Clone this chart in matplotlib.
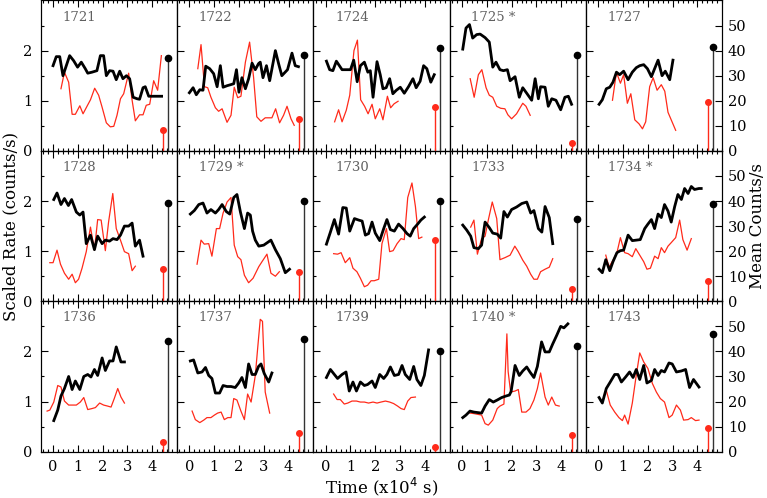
import matplotlib.pyplot as plt
from matplotlib.ticker import FixedLocator, MultipleLocator

# panel names (obs id), * = flagged
names = ["1721", "1722", "1724", "1725 *", "1727",
         "1728", "1729 *", "1730", "1733", "1734 *",
         "1736", "1737", "1739", "1740 *", "1743"]

# mean counts/s (right axis) shown as stems at the end of each panel
mean_black = [37.0, 38.3, 40.9, 38.4, 41.3,
              39.3, 39.9, 39.9, 33.0, 39.0,
              44.1, 45.0, 40.0, 42.0, 47.0]
mean_red = [8.2, 12.8, 17.5, 3.2, 19.5,
            12.7, 11.5, 24.6, 4.8, 8.2,
            4.0, 7.5, 2.0, 6.6, 9.3]

# scaled rate curves: (time x1e4 s, counts/s)
black_1721 = [(0.00,1.70),(0.13,1.88),(0.27,1.88),(0.40,1.50),(0.67,1.90),(0.83,1.80),(0.99,1.67),(1.14,1.77),(1.30,1.64),(1.40,1.55),(1.57,1.57),(1.77,1.60),(1.91,1.90),(2.04,1.90),(2.15,1.50),(2.28,1.60),(2.42,1.59),(2.55,1.42),(2.69,1.59),(2.82,1.44),(2.96,1.50),(3.09,1.44),(3.23,1.07),(3.39,1.04),(3.49,1.03),(3.63,1.26),(3.72,1.28),(3.86,1.09),(4.06,1.09),(4.38,1.09)]
red_1721 = [(0.32,1.24),(0.46,1.57),(0.63,1.37),(0.77,0.73),(0.90,0.73),(1.08,0.90),(1.21,0.74),(1.37,0.89),(1.51,1.02),(1.68,1.25),(1.84,1.11),(1.98,0.87),(2.15,0.56),(2.31,0.48),(2.45,0.49),(2.58,0.71),(2.72,1.04),(2.85,1.14),(3.05,1.55),(3.19,1.01),(3.32,0.60),(3.49,0.72),(3.63,0.72),(3.76,0.91),(3.90,0.93),(4.06,1.40),(4.22,1.21),(4.37,1.90)]

black_1722 = [(0.00,1.16),(0.15,1.26),(0.28,1.12),(0.42,1.22),(0.55,1.21),(0.66,1.69),(0.82,1.64),(0.98,1.54),(1.12,1.28),(1.25,1.70),(1.36,1.27),(1.52,1.30),(1.66,1.32),(1.79,1.34),(1.90,1.62),(2.00,1.17),(2.12,1.46),(2.26,1.24),(2.39,1.44),(2.53,1.75),(2.66,1.62),(2.79,1.74),(2.86,1.77),(2.97,1.46),(3.11,1.70),(3.24,1.40),(3.47,2.00),(3.60,1.74),(3.73,1.50),(3.96,1.62),(4.14,1.95),(4.27,1.70),(4.40,1.68)]
red_1722 = [(0.34,1.64),(0.47,2.12),(0.61,1.28),(0.74,1.26),(0.87,1.07),(1.05,0.86),(1.18,0.79),(1.32,0.84),(1.52,0.57),(1.68,0.71),(1.81,1.27),(1.95,1.06),(2.08,1.09),(2.26,1.77),(2.43,2.17),(2.59,1.47),(2.72,0.68),(2.89,0.59),(3.06,0.66),(3.20,0.66),(3.33,0.66),(3.48,0.84),(3.64,0.56),(3.80,0.71),(3.94,0.89),(4.10,0.64),(4.23,0.51)]

black_1724 = [(0.03,1.79),(0.16,1.62),(0.29,1.60),(0.43,1.79),(0.66,1.62),(1.00,1.62),(1.13,1.81),(1.27,1.38),(1.40,1.70),(1.56,1.77),(1.70,1.57),(1.80,1.60),(1.91,1.07),(2.07,1.78),(2.20,1.52),(2.31,1.24),(2.44,1.26),(2.58,1.44),(2.71,1.14),(2.85,1.21),(3.01,1.27),(3.17,1.15),(3.34,1.28),(3.52,1.44),(3.65,1.26),(3.81,1.39),(3.95,1.70),(4.08,1.64),(4.24,1.37),(4.38,1.52)]
red_1724 = [(0.36,0.58),(0.52,0.82),(0.66,0.58),(0.83,0.81),(0.97,1.11),(1.14,2.00),(1.28,2.21),(1.41,1.02),(1.57,0.89),(1.71,0.74),(1.87,0.93),(2.00,0.64),(2.18,0.84),(2.31,0.62),(2.49,1.09),(2.62,0.86),(2.76,0.94),(2.92,0.99)]

black_1725 = [(0.03,2.03),(0.16,2.45),(0.30,2.52),(0.43,2.25),(0.59,2.32),(0.73,2.33),(0.93,2.26),(1.10,2.17),(1.24,1.67),(1.37,1.77),(1.53,1.62),(1.67,1.60),(1.83,1.62),(1.94,1.40),(2.14,1.48),(2.31,1.07),(2.45,1.26),(2.61,1.15),(2.81,1.01),(2.95,1.44),(3.08,1.04),(3.17,1.28),(3.35,1.27),(3.48,0.89),(3.62,1.04),(3.79,1.01),(3.98,0.82),(4.15,1.07),(4.29,1.09),(4.42,0.93)]
red_1725 = [(0.33,1.44),(0.49,1.07),(0.66,1.52),(0.80,1.62),(0.97,1.26),(1.10,1.11),(1.24,1.07),(1.40,0.89),(1.56,0.85),(1.73,0.84),(1.85,0.72),(2.00,0.64),(2.20,0.74),(2.45,0.95),(2.58,0.89),(2.75,0.71)]

black_1727 = [(0.03,0.93),(0.16,1.02),(0.32,1.24),(0.46,1.27),(0.59,1.37),(0.73,1.57),(0.86,1.52),(1.02,1.59),(1.20,1.42),(1.37,1.57),(1.53,1.66),(1.67,1.70),(1.83,1.72),(1.98,1.64),(2.14,1.48),(2.27,1.64),(2.41,1.81),(2.57,1.50),(2.70,1.59),(2.88,1.42),(3.01,1.81)]
red_1727 = [(0.57,1.01),(0.73,1.57),(0.89,1.35),(1.02,1.52),(1.17,0.95),(1.31,1.14),(1.47,0.62),(1.64,0.54),(1.78,0.44),(1.91,0.58),(2.07,1.28),(2.21,1.46),(2.37,1.21),(2.54,1.32),(2.68,1.19),(2.81,0.77),(3.12,0.41)]

black_1728 = [(0.03,2.03),(0.16,2.16),(0.32,1.93),(0.46,2.05),(0.62,1.91),(0.75,2.03),(0.94,1.78),(1.08,1.72),(1.21,1.78),(1.34,1.15),(1.51,1.32),(1.67,1.03),(1.80,1.30),(1.98,1.15),(2.11,1.22),(2.28,1.20),(2.42,1.25),(2.58,1.23),(2.72,1.32),(2.88,1.50),(3.05,1.50),(3.19,1.56),(3.32,1.10),(3.49,1.22),(3.63,0.90)]
red_1728 = [(-0.13,0.77),(0.00,0.77),(0.16,1.02),(0.30,0.74),(0.46,0.56),(0.63,0.44),(0.77,0.54),(0.90,0.37),(1.03,0.44),(1.17,0.66),(1.34,0.99),(1.51,1.48),(1.67,1.02),(1.80,1.63),(1.94,1.62),(2.11,1.01),(2.24,1.58),(2.41,2.15),(2.55,1.45),(2.72,1.22),(2.88,0.99),(3.05,0.95),(3.19,0.61),(3.32,0.70)]

black_1729 = [(0.04,1.74),(0.20,1.81),(0.38,1.93),(0.55,1.96),(0.71,1.76),(0.87,1.83),(1.05,1.76),(1.18,1.83),(1.32,1.93),(1.49,1.79),(1.63,1.74),(1.79,2.07),(1.92,2.13),(2.06,1.78),(2.22,1.45),(2.35,1.76),(2.46,1.72),(2.55,1.40),(2.66,1.22),(2.80,1.10),(3.00,1.12),(3.29,1.22),(3.47,1.03),(3.67,0.85),(3.87,0.57),(4.04,0.64)]
red_1729 = [(0.31,0.74),(0.47,1.22),(0.60,1.14),(0.78,1.15),(0.91,0.90),(1.09,1.45),(1.22,1.45),(1.36,1.76),(1.52,1.98),(1.68,2.07),(1.81,1.12),(1.95,0.89),(2.08,0.83),(2.22,0.52),(2.39,0.37),(2.57,0.46),(2.80,0.69),(2.93,0.79),(3.13,0.94),(3.29,0.56),(3.47,0.50),(3.63,0.59)]

black_1730 = [(0.03,1.14),(0.19,1.38),(0.35,1.63),(0.52,1.34),(0.69,1.87),(0.83,1.86),(0.97,1.40),(1.16,1.65),(1.33,1.62),(1.47,1.60),(1.60,1.32),(1.73,1.35),(1.87,1.58),(2.00,1.36),(2.18,1.21),(2.34,1.45),(2.47,1.63),(2.61,1.43),(2.77,1.40),(2.94,1.54),(3.12,1.45),(3.28,1.35),(3.41,1.30),(3.55,1.45),(3.71,1.54),(3.84,1.62),(3.98,1.68)]
red_1730 = [(0.32,0.95),(0.48,0.94),(0.62,0.97),(0.79,0.77),(0.97,0.87),(1.10,0.66),(1.26,0.59),(1.40,0.46),(1.56,0.29),(1.69,0.32),(1.83,0.41),(1.96,0.41),(2.14,0.44),(2.27,1.15),(2.45,1.45),(2.58,0.99),(2.72,1.01),(2.88,1.15),(3.04,1.25),(3.17,1.23),(3.31,2.07),(3.48,2.36),(3.62,1.89),(3.75,1.25),(3.88,1.28)]

black_1733 = [(0.03,1.52),(0.19,1.42),(0.35,1.30),(0.48,1.07),(0.66,1.05),(0.79,1.12),(0.93,1.58),(1.10,1.47),(1.24,1.36),(1.42,1.34),(1.56,1.26),(1.69,1.79),(1.83,1.68),(2.00,1.83),(2.20,1.88),(2.41,1.95),(2.61,1.98),(2.77,1.76),(2.90,1.81),(3.08,1.45),(3.22,1.38),(3.35,1.89),(3.52,1.67),(3.66,1.15)]
red_1733 = [(0.35,1.48),(0.48,1.62),(0.62,0.94),(0.79,1.25),(0.93,1.30),(1.06,1.62),(1.22,1.98),(1.40,1.65),(1.53,0.83),(1.73,0.87),(1.94,0.92),(2.13,1.10),(2.27,0.99),(2.45,0.82),(2.61,0.70),(2.77,0.54),(2.90,0.44),(3.04,0.44),(3.17,0.59),(3.35,0.64),(3.52,0.68),(3.66,0.85)]

black_1734 = [(0.03,0.64),(0.16,0.57),(0.30,0.83),(0.46,0.61),(0.59,0.79),(0.75,0.97),(0.89,1.01),(1.02,1.02),(1.20,1.32),(1.37,1.21),(1.53,1.22),(1.69,1.23),(1.87,1.45),(2.00,1.54),(2.14,1.63),(2.27,1.45),(2.41,1.74),(2.54,1.67),(2.67,1.93),(2.81,1.80),(2.94,1.58),(3.08,1.89),(3.21,2.13),(3.35,2.03),(3.48,2.25),(3.62,2.15),(3.75,2.29),(3.88,2.23),(4.06,2.25),(4.15,2.25)]
red_1734 = [(0.30,0.92),(0.43,0.68),(0.59,0.82),(0.75,0.97),(0.89,1.27),(1.06,0.97),(1.20,0.95),(1.37,0.89),(1.51,1.05),(1.67,0.92),(1.83,0.79),(1.96,0.64),(2.10,0.66),(2.27,0.90),(2.41,0.85),(2.54,1.07),(2.67,0.97),(2.81,1.10),(2.94,1.17),(3.12,1.27),(3.28,1.62),(3.41,1.23),(3.58,1.02),(3.75,1.25)]

black_1736 = [(0.03,0.62),(0.19,0.83),(0.32,1.11),(0.46,1.26),(0.63,1.50),(0.77,1.24),(0.90,1.41),(1.08,1.24),(1.24,1.50),(1.40,1.54),(1.53,1.49),(1.67,1.64),(1.80,1.52),(1.98,1.87),(2.11,1.62),(2.28,1.81),(2.42,1.81),(2.55,2.09),(2.74,1.79),(2.88,1.79)]
red_1736 = [(-0.24,0.81),(-0.13,0.83),(0.03,0.99),(0.19,1.32),(0.32,1.29),(0.46,1.01),(0.63,0.93),(0.77,0.93),(0.94,0.93),(1.10,0.99),(1.24,1.08),(1.40,0.84),(1.57,0.86),(1.71,0.88),(1.88,0.97),(2.04,0.93),(2.20,0.91),(2.34,0.89),(2.47,1.06),(2.61,1.26),(2.74,1.09),(2.88,0.97)]

black_1737 = [(0.04,1.81),(0.17,1.83),(0.34,1.57),(0.51,1.59),(0.65,1.68),(0.78,1.52),(0.91,1.46),(1.05,1.17),(1.22,1.17),(1.36,1.32),(1.52,1.30),(1.68,1.30),(1.85,1.28),(1.99,1.37),(2.12,1.48),(2.26,1.28),(2.39,1.75),(2.53,1.54),(2.66,1.54),(2.79,1.70),(2.89,1.75),(3.02,1.56),(3.20,1.39),(3.33,1.57)]
red_1737 = [(0.11,0.81),(0.24,0.64),(0.42,0.58),(0.58,0.63),(0.71,0.68),(0.87,0.68),(1.01,0.73),(1.14,0.77),(1.28,0.79),(1.41,0.64),(1.55,0.68),(1.68,0.68),(1.79,1.06),(1.92,1.03),(2.08,0.81),(2.22,0.64),(2.35,1.15),(2.49,0.99),(2.66,1.52),(2.76,2.09),(2.86,2.64),(2.95,2.60),(3.06,1.19),(3.24,0.77)]

black_1739 = [(0.03,1.48),(0.19,1.64),(0.35,1.54),(0.48,1.46),(0.66,1.54),(0.82,1.59),(0.95,1.21),(1.10,1.39),(1.24,1.21),(1.40,1.39),(1.56,1.32),(1.69,1.34),(1.87,1.41),(2.00,1.28),(2.18,1.54),(2.34,1.46),(2.47,1.54),(2.61,1.69),(2.77,1.52),(2.94,1.54),(3.08,1.72),(3.21,1.54),(3.39,1.44),(3.55,1.70),(3.68,1.44),(3.84,1.32),(3.98,1.52),(4.15,2.03)]
red_1739 = [(0.32,1.15),(0.46,1.04),(0.59,1.04),(0.75,0.95),(0.89,0.97),(1.06,1.01),(1.24,1.01),(1.40,0.99),(1.56,0.99),(1.73,0.97),(1.91,0.99),(2.07,0.97),(2.23,0.99),(2.41,1.01),(2.58,0.99),(2.74,0.96),(2.90,0.91),(3.04,0.86),(3.17,0.84),(3.31,1.01),(3.44,1.08),(3.62,1.09)]

black_1740 = [(0.03,0.68),(0.16,0.73),(0.32,0.81),(0.48,0.79),(0.79,0.77),(0.93,0.91),(1.10,1.04),(1.26,0.99),(1.42,1.03),(1.60,1.08),(1.77,1.11),(1.91,1.13),(1.98,1.20),(2.14,1.72),(2.31,1.52),(2.45,1.61),(2.61,1.69),(2.74,1.59),(2.90,1.48),(3.04,1.70),(3.21,2.19),(3.35,1.99),(3.52,1.99),(3.66,2.15),(3.82,2.32),(3.98,2.50),(4.11,2.47),(4.27,2.55)]
red_1740 = [(0.32,0.77),(0.48,0.76),(0.79,0.73),(0.93,0.56),(1.06,0.53),(1.24,0.63),(1.42,0.86),(1.53,0.91),(1.69,0.95),(1.81,2.35),(1.86,1.60),(1.96,1.19),(2.14,1.21),(2.27,1.24),(2.41,0.79),(2.58,0.79),(2.74,0.86),(2.90,1.03),(3.04,1.26),(3.17,1.57),(3.35,1.09),(3.48,0.93),(3.62,1.09),(3.77,0.93),(3.92,0.91)]

black_1743 = [(0.03,1.08),(0.16,0.97),(0.32,1.26),(0.48,1.39),(0.66,1.54),(0.79,1.54),(0.93,1.39),(1.10,1.49),(1.26,1.59),(1.40,1.48),(1.53,1.64),(1.67,1.44),(1.83,1.72),(1.96,1.37),(2.14,1.42),(2.27,1.64),(2.41,1.52),(2.54,1.62),(2.67,1.59),(2.85,1.77),(2.98,1.75),(3.15,1.59),(3.35,1.61),(3.52,1.64),(3.68,1.28),(3.84,1.44),(4.06,1.29)]
red_1743 = [(0.30,1.26),(0.48,0.93),(0.66,0.79),(0.83,0.68),(0.97,0.62),(1.06,0.73),(1.20,0.55),(1.37,0.97),(1.51,1.46),(1.67,1.97),(1.83,1.79),(2.00,1.66),(2.18,1.36),(2.34,1.19),(2.50,1.06),(2.67,0.99),(2.85,0.68),(2.98,0.73),(3.15,0.93),(3.31,0.83),(3.44,0.63),(3.62,0.64),(3.75,0.68),(3.92,0.62),(4.06,0.63)]

blacks = [black_1721, black_1722, black_1724, black_1725, black_1727,
          black_1728, black_1729, black_1730, black_1733, black_1734,
          black_1736, black_1737, black_1739, black_1740, black_1743]
reds = [red_1721, red_1722, red_1724, red_1725, red_1727,
        red_1728, red_1729, red_1730, red_1733, red_1734,
        red_1736, red_1737, red_1739, red_1740, red_1743]

RED = '#ff2a1a'
plt.rcParams['font.family'] = ['DejaVu Serif']
plt.rcParams['font.size'] = 10.5

fig, axes = plt.subplots(3, 5, figsize=(7.67, 4.98), dpi=100, sharex=True, sharey=True)
fig.subplots_adjust(left=0.053, right=0.9417, top=0.999, bottom=0.093, wspace=0, hspace=0)

for i in range(15):
    ax = axes.flat[i]
    row, col = divmod(i, 5)
    bt = [p[0] for p in blacks[i]]
    bv = [p[1] for p in blacks[i]]
    rt = [p[0] for p in reds[i]]
    rv = [p[1] for p in reds[i]]
    ax.plot(rt, rv, color=RED, lw=0.9)
    ax.plot(bt, bv, color='black', lw=2.0)
    ax.set_xlim(-0.5, 5.0)
    ax.set_ylim(0, 3.0)
    ax.xaxis.set_major_locator(FixedLocator([0, 1, 2, 3, 4]))
    ax.xaxis.set_minor_locator(MultipleLocator(0.2))
    ax.yaxis.set_major_locator(FixedLocator([0, 1, 2]))
    ax.yaxis.set_minor_locator(FixedLocator([0.5, 1.5, 2.5]))
    ax.tick_params(which='both', direction='in', top=True, right=False, width=0.8)
    ax.tick_params(which='major', length=5, pad=6)
    ax.tick_params(which='minor', length=2.5)
    ax.text(0.16, 0.89, names[i], transform=ax.transAxes, color='#606060',
            fontsize=9.5, va='center', ha='left')

    # mean counts on a twin scale
    ax2 = ax.twinx()
    ax2.set_ylim(0, 60)
    ax2.vlines(4.42, 0, mean_red[i], color=RED, lw=1.0)
    ax2.plot([4.42], [mean_red[i]], marker='o', color=RED, ms=4)
    ax2.vlines(4.62, 0, mean_black[i], color='#333333', lw=1.0)
    ax2.plot([4.62], [mean_black[i]], marker='o', color='black', ms=4.5)
    if col == 4:
        ax2.set_yticks([0, 10, 20, 30, 40, 50])
        ax2.tick_params(axis='y', direction='in', length=5, width=0.8, pad=4)
    else:
        ax2.set_yticks([])

fig.text(0.014, 0.546, 'Scaled Rate (counts/s)', rotation=90, ha='center', va='center', fontsize=12)
fig.text(0.987, 0.546, 'Mean Counts/s', rotation=90, ha='center', va='center', fontsize=12)
fig.text(0.498, 0.022, 'Time (x10$^4$ s)', ha='center', va='center', fontsize=12)

plt.savefig('out.png', dpi=100)
